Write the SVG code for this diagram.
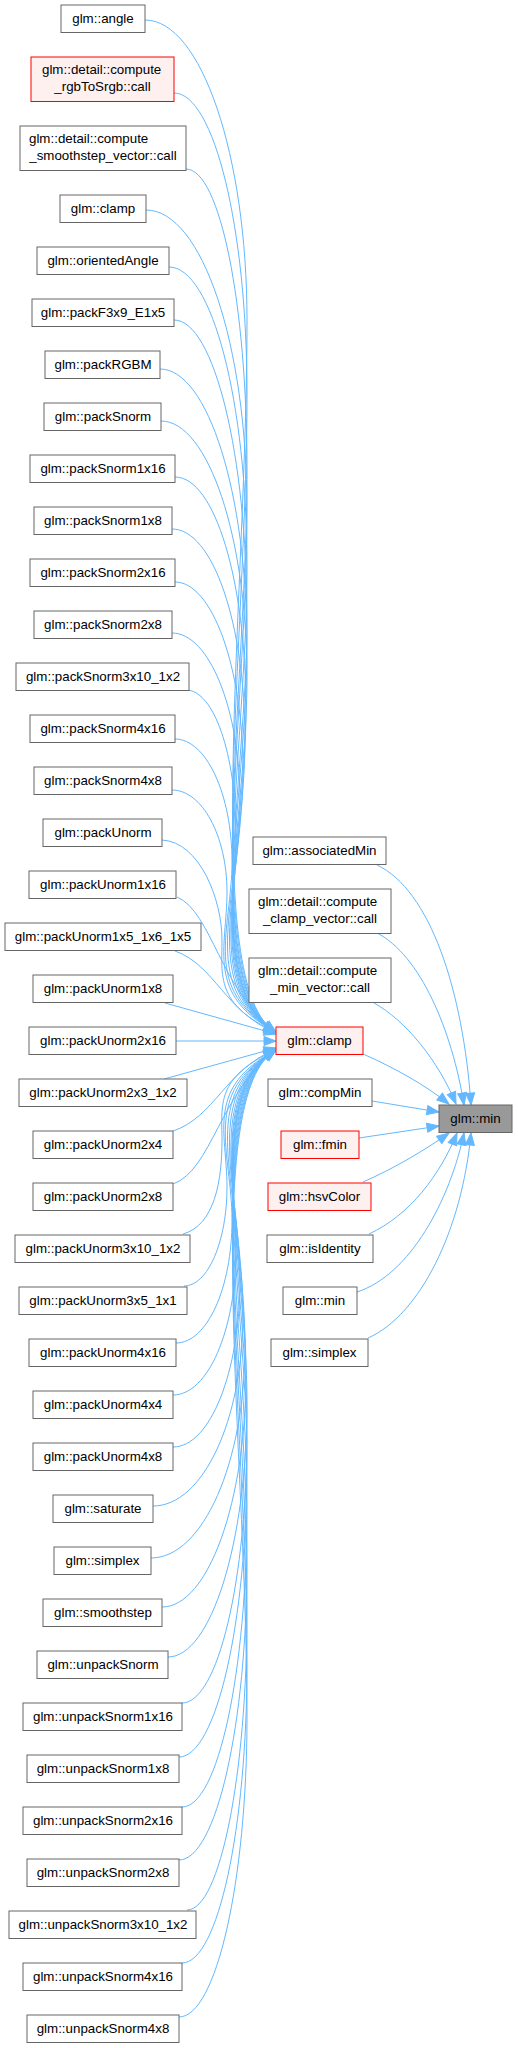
<svg xmlns="http://www.w3.org/2000/svg" width="518" height="2048" viewBox="0 0 518 2048">
<style>
rect{fill:#ffffff;stroke:#666666;stroke-width:1}
rect.r{fill:#fff0f0;stroke:#ff0000}
rect.t{fill:#999999;stroke:#666666}
text{font-family:"Liberation Sans",Arial,sans-serif;font-size:13.33px;fill:#000;text-anchor:middle}
text.s{text-anchor:start}
#edges path{fill:none;stroke:#63b8ff;stroke-width:1;marker-end:url(#a)}
</style>
<defs>
<marker id="a" markerUnits="userSpaceOnUse" markerWidth="13" markerHeight="10" refX="12" refY="4.5" orient="auto" overflow="visible">
<path d="M0,0 L12,4.5 L0,9 z" fill="#63b8ff" stroke="#63b8ff" stroke-width="1"/>
</marker>
</defs>
<rect x="0" y="0" width="518" height="2048" style="fill:#ffffff;stroke:none"/>
<g id="edges">
<path d="M145,20 C201,20 247,155 247,320 C247,605 200,990 276,1032"/>
<path d="M174,93 C214,93 247,228 247,393 C247,649 200,990 276,1032"/>
<path d="M186,169 C220,169 247,304 247,469 C247,694 200,990 276,1032"/>
<path d="M146,210 C202,210 247,345 247,510 C247,719 200,990 276,1032"/>
<path d="M169,267 C212,267 247,402 247,567 C247,753 200,990 276,1032"/>
<path d="M174,320 C214,320 247,455 247,619 C247,784 200,990 276,1032"/>
<path d="M160,369 C208,369 247,494 247,647 C247,801 200,990 276,1032"/>
<path d="M161,421 C208,421 247,537 247,678 C247,820 200,990 276,1032"/>
<path d="M175,477 C215,477 246,582 246,710 C246,839 200,990 276,1032"/>
<path d="M172,529 C213,529 245,624 245,740 C245,857 200,990 276,1032"/>
<path d="M175,582 C212,582 243,667 243,771 C243,875 200,990 276,1032"/>
<path d="M172,633 C209,633 240,709 240,801 C240,893 200,990 276,1032"/>
<path d="M186,690 C214,690 236,755 236,834 C236,913 200,990 276,1032"/>
<path d="M175,739 C206,739 232,794 232,862 C232,930 200,990 276,1032"/>
<path d="M172,790 C202,790 227,836 227,892 C227,948 205,995 276,1032"/>
<path d="M162,840 C200,842 222,900 222,940 C222,975 215,1005 276,1032"/>
<path d="M177,897 C212,912 220,990 276,1032"/>
<path d="M175,951 C215,965 225,1012 276,1033"/>
<path d="M165,1003 L276,1034"/>
<path d="M176,1041 L276,1041"/>
<path d="M164,1079 L276,1048"/>
<path d="M173,1131 C215,1117 225,1070 276,1049"/>
<path d="M173,1184 C212,1170 220,1092 276,1050"/>
<path d="M183,1234 C215,1225 222,1180 222,1140 C222,1105 215,1077 276,1050"/>
<path d="M184,1286 C208,1286 227,1241 227,1187 C227,1132 205,1087 276,1050"/>
<path d="M176,1343 C207,1343 232,1288 232,1220 C232,1152 200,1092 276,1050"/>
<path d="M173,1395 C208,1395 236,1330 236,1250 C236,1170 200,1092 276,1050"/>
<path d="M173,1447 C210,1447 240,1372 240,1280 C240,1188 200,1092 276,1050"/>
<path d="M153,1506 C203,1506 243,1420 243,1314 C243,1208 200,1092 276,1050"/>
<path d="M151,1558 C203,1558 245,1462 245,1345 C245,1227 200,1092 276,1050"/>
<path d="M162,1607 C208,1607 246,1502 246,1373 C246,1244 200,1092 276,1050"/>
<path d="M168,1657 C211,1657 247,1542 247,1402 C247,1261 200,1092 276,1050"/>
<path d="M182,1703 C218,1703 247,1580 247,1429 C247,1277 200,1092 276,1050"/>
<path d="M179,1757 C216,1757 247,1623 247,1460 C247,1296 200,1092 276,1050"/>
<path d="M182,1807 C218,1807 247,1672 247,1507 C247,1324 200,1092 276,1050"/>
<path d="M179,1860 C216,1860 247,1725 247,1560 C247,1356 200,1092 276,1050"/>
<path d="M187,1910 C220,1910 247,1775 247,1610 C247,1386 200,1092 276,1050"/>
<path d="M182,1963 C218,1963 247,1828 247,1663 C247,1418 200,1092 276,1050"/>
<path d="M179,2017 C216,2017 247,1882 247,1717 C247,1450 200,1092 276,1050"/>
<path d="M377,865 C430,890 463,990 471,1105"/>
<path d="M377,933 C420,955 452,1030 464,1105"/>
<path d="M374,1003 C405,1020 438,1060 456,1104"/>
<path d="M363,1054 C395,1068 425,1085 449,1104"/>
<path d="M372,1101 L439,1112"/>
<path d="M359,1138 L439,1126"/>
<path d="M363,1182 C395,1168 425,1150 449,1133"/>
<path d="M369,1234 C410,1215 440,1175 457,1133"/>
<path d="M357,1292 C410,1275 450,1200 464,1133"/>
<path d="M368,1338 C420,1315 462,1230 471,1133"/>
</g>
<g id="n_angle"><rect x="61" y="5" width="84" height="27.5"/><text x="103" y="23">glm::angle</text></g>
<g id="n_rgbToSrgb"><rect class="r" x="31" y="57" width="143" height="44.5"/><text class="s" x="42" y="74">glm::detail::compute</text><text x="102.5" y="90.5">_rgbToSrgb::call</text></g>
<g id="n_smoothstep_vector"><rect x="20" y="126" width="166" height="44.5"/><text class="s" x="29" y="143">glm::detail::compute</text><text x="103" y="159.5">_smoothstep_vector::call</text></g>
<g id="n_clamp_l"><rect x="60" y="195" width="86" height="27.5"/><text x="103" y="213">glm::clamp</text></g>
<g id="n_orientedAngle"><rect x="37" y="247" width="132" height="27.5"/><text x="103" y="265">glm::orientedAngle</text></g>
<g id="n_packF3x9_E1x5"><rect x="32" y="299" width="142" height="27.5"/><text x="103" y="317">glm::packF3x9_E1x5</text></g>
<g id="n_packRGBM"><rect x="45" y="351" width="115" height="27.5"/><text x="103" y="369">glm::packRGBM</text></g>
<g id="n_packSnorm"><rect x="44" y="403" width="117" height="27.5"/><text x="103" y="421">glm::packSnorm</text></g>
<g id="n_packSnorm1x16"><rect x="30" y="455" width="145" height="27.5"/><text x="103" y="473">glm::packSnorm1x16</text></g>
<g id="n_packSnorm1x8"><rect x="34" y="507" width="138" height="27.5"/><text x="103" y="525">glm::packSnorm1x8</text></g>
<g id="n_packSnorm2x16"><rect x="30" y="559" width="145" height="27.5"/><text x="103" y="577">glm::packSnorm2x16</text></g>
<g id="n_packSnorm2x8"><rect x="34" y="611" width="138" height="27.5"/><text x="103" y="629">glm::packSnorm2x8</text></g>
<g id="n_packSnorm3x10_1x2"><rect x="16" y="663" width="173" height="27.5"/><text x="103" y="681">glm::packSnorm3x10_1x2</text></g>
<g id="n_packSnorm4x16"><rect x="30" y="715" width="145" height="27.5"/><text x="103" y="733">glm::packSnorm4x16</text></g>
<g id="n_packSnorm4x8"><rect x="34" y="767" width="138" height="27.5"/><text x="103" y="785">glm::packSnorm4x8</text></g>
<g id="n_packUnorm"><rect x="43" y="819" width="119" height="27.5"/><text x="103" y="837">glm::packUnorm</text></g>
<g id="n_packUnorm1x16"><rect x="29" y="871" width="147" height="27.5"/><text x="103" y="889">glm::packUnorm1x16</text></g>
<g id="n_packUnorm1x5_1x6_1x5"><rect x="5" y="923" width="196" height="27.5"/><text x="103" y="941">glm::packUnorm1x5_1x6_1x5</text></g>
<g id="n_packUnorm1x8"><rect x="33" y="975" width="140" height="27.5"/><text x="103" y="993">glm::packUnorm1x8</text></g>
<g id="n_packUnorm2x16"><rect x="29" y="1027" width="147" height="27.5"/><text x="103" y="1045">glm::packUnorm2x16</text></g>
<g id="n_packUnorm2x3_1x2"><rect x="19" y="1079" width="168" height="27.5"/><text x="103" y="1097">glm::packUnorm2x3_1x2</text></g>
<g id="n_packUnorm2x4"><rect x="33" y="1131" width="140" height="27.5"/><text x="103" y="1149">glm::packUnorm2x4</text></g>
<g id="n_packUnorm2x8"><rect x="33" y="1183" width="140" height="27.5"/><text x="103" y="1201">glm::packUnorm2x8</text></g>
<g id="n_packUnorm3x10_1x2"><rect x="15" y="1235" width="175" height="27.5"/><text x="103" y="1253">glm::packUnorm3x10_1x2</text></g>
<g id="n_packUnorm3x5_1x1"><rect x="19" y="1287" width="168" height="27.5"/><text x="103" y="1305">glm::packUnorm3x5_1x1</text></g>
<g id="n_packUnorm4x16"><rect x="29" y="1339" width="147" height="27.5"/><text x="103" y="1357">glm::packUnorm4x16</text></g>
<g id="n_packUnorm4x4"><rect x="33" y="1391" width="140" height="27.5"/><text x="103" y="1409">glm::packUnorm4x4</text></g>
<g id="n_packUnorm4x8"><rect x="33" y="1443" width="140" height="27.5"/><text x="103" y="1461">glm::packUnorm4x8</text></g>
<g id="n_saturate"><rect x="53" y="1495" width="100" height="27.5"/><text x="103" y="1513">glm::saturate</text></g>
<g id="n_simplex_l"><rect x="54" y="1547" width="97" height="27.5"/><text x="102.5" y="1565">glm::simplex</text></g>
<g id="n_smoothstep"><rect x="43" y="1599" width="119" height="27.5"/><text x="103" y="1617">glm::smoothstep</text></g>
<g id="n_unpackSnorm"><rect x="37" y="1651" width="131" height="27.5"/><text x="103" y="1669">glm::unpackSnorm</text></g>
<g id="n_unpackSnorm1x16"><rect x="23" y="1703" width="159" height="27.5"/><text x="103" y="1721">glm::unpackSnorm1x16</text></g>
<g id="n_unpackSnorm1x8"><rect x="27" y="1755" width="152" height="27.5"/><text x="103" y="1773">glm::unpackSnorm1x8</text></g>
<g id="n_unpackSnorm2x16"><rect x="23" y="1807" width="159" height="27.5"/><text x="103" y="1825">glm::unpackSnorm2x16</text></g>
<g id="n_unpackSnorm2x8"><rect x="27" y="1859" width="152" height="27.5"/><text x="103" y="1877">glm::unpackSnorm2x8</text></g>
<g id="n_unpackSnorm3x10_1x2"><rect x="9" y="1911" width="187" height="27.5"/><text x="103" y="1929">glm::unpackSnorm3x10_1x2</text></g>
<g id="n_unpackSnorm4x16"><rect x="23" y="1963" width="159" height="27.5"/><text x="103" y="1981">glm::unpackSnorm4x16</text></g>
<g id="n_unpackSnorm4x8"><rect x="27" y="2015" width="152" height="27.5"/><text x="103" y="2033">glm::unpackSnorm4x8</text></g>
<g id="n_associatedMin"><rect x="253" y="837" width="133" height="27.5"/><text x="319.5" y="855">glm::associatedMin</text></g>
<g id="n_clamp_vector"><rect x="249" y="889" width="142" height="44.5"/><text class="s" x="258" y="906">glm::detail::compute</text><text x="320" y="922.5">_clamp_vector::call</text></g>
<g id="n_min_vector"><rect x="249" y="958" width="142" height="44.5"/><text class="s" x="258" y="975">glm::detail::compute</text><text x="320" y="991.5">_min_vector::call</text></g>
<g id="n_clamp"><rect class="r" x="276" y="1027" width="87" height="27.5"/><text x="319.5" y="1045">glm::clamp</text></g>
<g id="n_compMin"><rect x="268" y="1079" width="104" height="27.5"/><text x="320" y="1097">glm::compMin</text></g>
<g id="n_fmin"><rect class="r" x="281" y="1131" width="78" height="27.5"/><text x="320" y="1149">glm::fmin</text></g>
<g id="n_hsvColor"><rect class="r" x="268" y="1183" width="103" height="27.5"/><text x="319.5" y="1201">glm::hsvColor</text></g>
<g id="n_isIdentity"><rect x="267" y="1235" width="106" height="27.5"/><text x="320" y="1253">glm::isIdentity</text></g>
<g id="n_min_r"><rect x="283" y="1287" width="74" height="27.5"/><text x="320" y="1305">glm::min</text></g>
<g id="n_simplex_r"><rect x="271" y="1339" width="97" height="27.5"/><text x="319.5" y="1357">glm::simplex</text></g>
<g id="n_min"><rect class="t" x="439" y="1105" width="73" height="27.5"/><text x="475.5" y="1123">glm::min</text></g>
</svg>
